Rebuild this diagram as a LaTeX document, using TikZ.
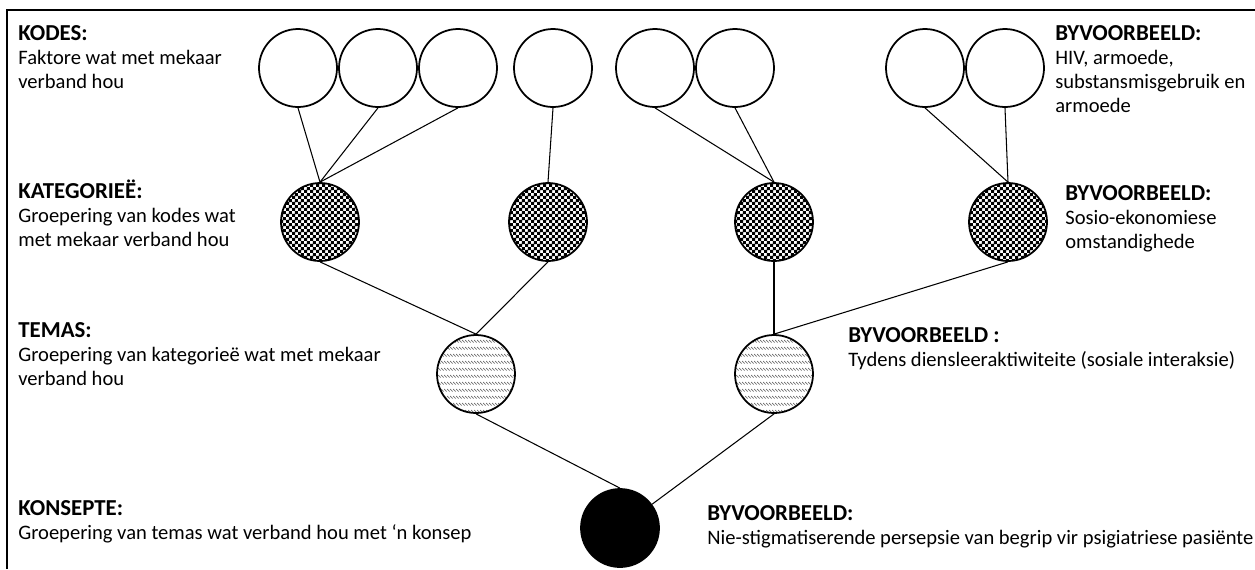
\documentclass[tikz,border=0pt]{standalone}
\usepackage{fontspec}
\setmainfont{Carlito}
\usetikzlibrary{patterns}

\newcommand{\kop}[1]{{\fontsize{13}{13.6}\selectfont\bfseries #1}}

\pgfdeclarepatternformonly{waverows}{\pgfpointorigin}{\pgfqpoint{1.6pt}{4pt}}{\pgfqpoint{1.6pt}{4pt}}{
  \pgfsetlinewidth{0.45pt}
  \pgfpathmoveto{\pgfqpoint{0pt}{3.2pt}}
  \pgfpathlineto{\pgfqpoint{1.6pt}{1.6pt}}
  \pgfusepath{stroke}
}
\pgfdeclarepatternformonly{fineruit}{\pgfpointorigin}{\pgfqpoint{3.4pt}{3.4pt}}{\pgfqpoint{3.4pt}{3.4pt}}{
  \pgfpathrectangle{\pgfpointorigin}{\pgfqpoint{1.75pt}{1.75pt}}
  \pgfpathrectangle{\pgfqpoint{1.7pt}{1.7pt}}{\pgfqpoint{1.75pt}{1.75pt}}
  \pgfusepath{fill}
}

\tikzset{
  kode/.style={circle,draw,line width=1pt,minimum size=78*0.02cm,inner sep=0pt,fill=white},
  kat/.style={kode,pattern=fineruit},
  tema/.style={kode,pattern=waverows,pattern color=black!55},
  konsep/.style={kode,fill=black},
  link/.style={line width=0.6pt},
  label/.style={anchor=north west,inner sep=0pt,align=left,font=\fontsize{11.7}{13.6}\selectfont}
}

\begin{document}
\begin{tikzpicture}[x=0.02cm,y=-0.02cm]
    \useasboundingbox (0,0) rectangle (1255,569);
    \draw[line width=1.1pt](7,569)--(7,10)--(1255,10);

    % kodes
    \foreach \n/\x in {1/298,2/378,3/458,4/553,5/655,6/735,7/925,8/1005}
        \node[kode] (c\n) at (\x,68) {};
    % kategorieë
    \node[kat] (k1) at (320,222) {};
    \node[kat] (k2) at (548,222) {};
    \node[kat] (k3) at (774,222) {};
    \node[kat] (k4) at (1008,222) {};
    % temas
    \node[tema] (t1) at (476,374) {};
    \node[tema] (t2) at (774,374) {};
    % konsep
    \node[konsep] (kon) at (620,528) {};

    \foreach \c in {c1,c2,c3} \draw[link](\c.south)--(k1.north);
    \draw[link](c4.south)--(k2.north);
    \foreach \c in {c5,c6} \draw[link](\c.south)--(k3.north);
    \foreach \c in {c7,c8} \draw[link](\c.south)--(k4.north);
    \draw[link](k1.south)--(t1.north);
    \draw[link](k2.south)--(t1.north);
    \draw[link](k3.south)--(t2.north);
    \draw[link](k4.south)--(t2.north);
    \draw[link](t1.south)--(kon.north);
    \draw[link](t2.south)--(kon);

    % linkerkant
    \node[label] (lk) at (18,25) {\kop{KODES:}\\Faktore wat met mekaar\\verband hou};
    \node[label] (lkat) at (18,180) {\kop{KATEGORIEË:}\\Groepering van kodes wat\\met mekaar verband hou};
    \node[label] (lt) at (18,322) {\kop{TEMAS:}\\Groepering van kategorieë wat met mekaar\\verband hou};
    \node[label] (lkon) at (18,500) {\kop{KONSEPTE:}\\Groepering van temas wat verband hou met ‘n konsep};
    % regterkant
    \node[label] (rk) at (1055,25) {\kop{BYVOORBEELD:}\\HIV, armoede,\\substansmisgebruik en\\armoede};
    \node[label] (rkat) at (1065,185) {\kop{BYVOORBEELD:}\\Sosio-ekonomiese\\omstandighede};
    \node[label] (rt) at (848,327) {\kop{BYVOORBEELD :}\\Tydens diensleeraktiwiteite (sosiale interaksie)};
    \node[label] (rkon) at (707,505) {\kop{BYVOORBEELD:}\\Nie-stigmatiserende persepsie van begrip vir psigiatriese pasiënte};
\end{tikzpicture}
\end{document}
